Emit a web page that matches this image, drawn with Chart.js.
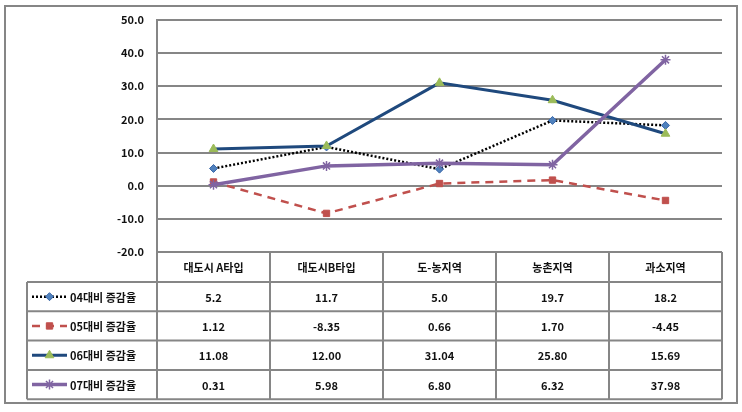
<!DOCTYPE html>
<html>
<head>
<meta charset="utf-8">
<script src="https://cdn.jsdelivr.net/npm/chart.js@4"></script>
<style>
  html, body { margin: 0; padding: 0; background: #fff; }
  #wrap { position: relative; width: 742px; height: 412px; }
</style>
</head>
<body>
<div id="wrap"><canvas id="c" width="742" height="412"></canvas></div>
<script>
  const CATEGORIES = ['대도시 A타입', '대도시B타입', '도-농지역', '농촌지역', '과소지역'];
  const SERIES_NAMES = ['04대비 증감율', '05대비 증감율', '06대비 증감율', '07대비 증감율'];
  const S04 = [5.2, 11.7, 5.0, 19.7, 18.2];
  const S05 = [1.12, -8.35, 0.66, 1.70, -4.45];
  const S06 = [11.08, 12.00, 31.04, 25.80, 15.69];
  const S07 = [0.31, 5.98, 6.80, 6.32, 37.98];
  const DECIMALS = [1, 2, 2, 2];
  const Y_MIN = -20, Y_MAX = 50, Y_STEP = 10;

  const GRID = '#868686';
  const FONT = '"Noto Sans CJK KR", "Noto Sans", sans-serif';
  const TXT = '600 11px ' + FONT;

  // table under the plot, drawn from the x scale so columns line up with points
  const tablePlugin = {
    id: 'dataTable',
    afterDraw(chart) {
      const ctx = chart.ctx;
      const ca = chart.chartArea;
      const top = ca.bottom;
      const headH = 30;
      const rowH = 29.3;
      const legLeft = 27;
      const n = CATEGORIES.length;
      const colW = (ca.right - ca.left) / n;
      const bottom = top + headH + rowH * SERIES_NAMES.length;

      ctx.save();
      ctx.strokeStyle = GRID;
      ctx.lineWidth = 2;
      ctx.beginPath();
      ctx.moveTo(ca.left, top); ctx.lineTo(ca.right, top);
      ctx.moveTo(legLeft, top + headH); ctx.lineTo(ca.right, top + headH);
      for (let r = 1; r <= SERIES_NAMES.length; r++) {
        const y = top + headH + rowH * r;
        ctx.moveTo(legLeft, y); ctx.lineTo(ca.right, y);
      }
      ctx.moveTo(legLeft, top + headH); ctx.lineTo(legLeft, bottom);
      for (let i = 0; i <= n; i++) {
        const x = ca.left + colW * i;
        ctx.moveTo(x, i === 0 ? ca.top : top); ctx.lineTo(x, bottom);
      }
      ctx.stroke();

      ctx.fillStyle = '#111';
      ctx.font = TXT;
      ctx.textAlign = 'center';
      ctx.textBaseline = 'middle';
      const xs = chart.scales.x;
      CATEGORIES.forEach((c, i) => {
        ctx.fillText(c, xs.getPixelForValue(i), top + headH / 2 + 1);
      });

      chart.data.datasets.forEach((ds, r) => {
        const yc = top + headH + rowH * r + rowH / 2;
        ds.data.forEach((v, i) => {
          ctx.fillStyle = '#111';
          ctx.textAlign = 'center';
          ctx.fillText(v.toFixed(DECIMALS[r]), xs.getPixelForValue(i), yc + 1);
        });
        // legend key: line sample + marker
        ctx.save();
        ctx.strokeStyle = ds.borderColor;
        ctx.lineWidth = ds.borderWidth;
        ctx.setLineDash(ds.borderDash || []);
        ctx.beginPath();
        ctx.moveTo(32, yc); ctx.lineTo(67, yc);
        ctx.stroke();
        ctx.setLineDash([]);
        ctx.fillStyle = ds.pointBackgroundColor;
        ctx.strokeStyle = ds.pointBorderColor;
        ctx.lineWidth = ds.pointBorderWidth;
        Chart.helpers.drawPoint(ctx, {
          pointStyle: ds.pointStyle, radius: ds.pointRadius, rotation: 0,
          borderWidth: ds.pointBorderWidth
        }, 49.5, yc);
        ctx.restore();
        ctx.fillStyle = '#111';
        ctx.textAlign = 'left';
        ctx.fillText(SERIES_NAMES[r], 70, yc + 1);
      });

      // outer frame
      ctx.strokeStyle = GRID;
      ctx.lineWidth = 2;
      ctx.strokeRect(5, 6, 732, 397);
      ctx.restore();
    }
  };

  new Chart(document.getElementById('c'), {
    type: 'line',
    data: {
      labels: CATEGORIES,
      datasets: [
        { label: SERIES_NAMES[0], data: S04, borderColor: '#000', borderWidth: 2.5, borderDash: [2, 2],
          pointStyle: 'rectRot', pointRadius: 4, pointBackgroundColor: '#4F81BD', pointBorderColor: '#3A67A8',
          pointBorderWidth: 1, order: 4 },
        { label: SERIES_NAMES[1], data: S05, borderColor: '#C0504D', borderWidth: 2.5, borderDash: [8, 6],
          pointStyle: 'rect', pointRadius: 4.5, pointBackgroundColor: '#C0504D', pointBorderColor: '#C0504D',
          pointBorderWidth: 1, order: 3 },
        { label: SERIES_NAMES[2], data: S06, borderColor: '#1F497D', borderWidth: 3,
          pointStyle: 'triangle', pointRadius: 5, pointBackgroundColor: '#9BBB59', pointBorderColor: '#9BBB59',
          pointBorderWidth: 1, order: 2 },
        { label: SERIES_NAMES[3], data: S07, borderColor: '#8064A2', borderWidth: 3.5,
          pointStyle: 'star', pointRadius: 5, pointBackgroundColor: '#8064A2', pointBorderColor: '#8064A2',
          pointBorderWidth: 1.5, order: 1 },
      ]
    },
    options: {
      animation: false, responsive: false,
      layout: { padding: { left: 0, top: 20, right: 20, bottom: 160 } },
      plugins: { legend: { display: false }, tooltip: { enabled: false } },
      elements: { line: { tension: 0 } },
      scales: {
        x: { display: false, offset: true },
        y: {
          min: Y_MIN, max: Y_MAX,
          afterFit: s => { s.width = 157; },
          ticks: { stepSize: Y_STEP, padding: 13, color: '#111', font: { family: FONT, size: 11, weight: '600' },
                   callback: v => v.toFixed(1) },
          grid: { color: GRID, lineWidth: 2, drawTicks: false },
          border: { color: GRID, width: 2 }
        }
      }
    },
    plugins: [tablePlugin]
  });
</script>
</body>
</html>
